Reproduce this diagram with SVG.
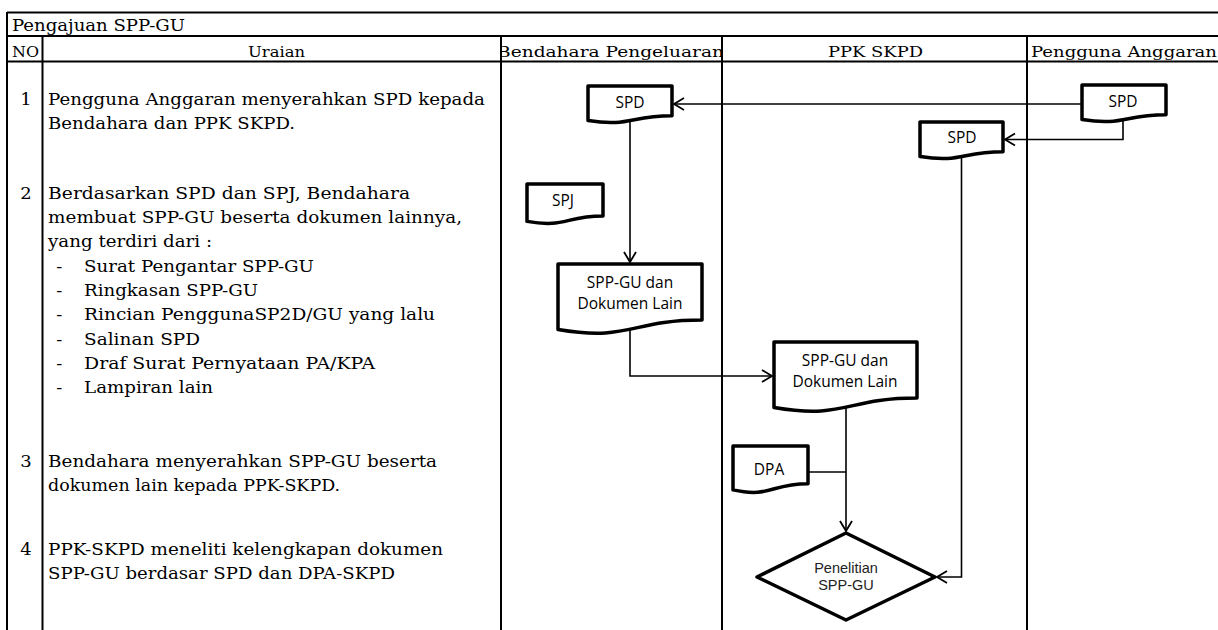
<svg xmlns="http://www.w3.org/2000/svg" width="1218" height="630" viewBox="0 0 1218 630">
<style>
.ln{stroke:#000;stroke-width:2;fill:none}
.doc{fill:#fff;stroke:#000;stroke-width:3.5;stroke-linejoin:round}
.con{stroke:#000;stroke-width:1.6;fill:none}
.body{font-family:"DejaVu Serif",serif;font-size:16px;fill:#000}
.hdr{font-family:"DejaVu Serif",serif;font-size:14px;fill:#000}
.dt{font-family:"Open Sans",sans-serif;font-size:15.5px;text-anchor:middle;fill:#000}
.dm{font-family:"Liberation Sans",Arial,sans-serif;font-size:14.5px;text-anchor:middle;fill:#222}
</style>
<defs>
<marker id="arr" markerUnits="userSpaceOnUse" markerWidth="14" markerHeight="14" refX="10" refY="6" orient="auto" overflow="visible">
<path d="M0,0 L10,6 L0,12" fill="none" stroke="#000" stroke-width="1.8"/>
</marker>
<clipPath id="clipB"><rect x="502" y="36" width="219" height="26"/></clipPath>
</defs>
<rect width="1218" height="630" fill="#fff"/>

<g id="table">
<line class="ln" x1="7" y1="12.5" x2="1218" y2="12.5"/>
<line class="ln" x1="7" y1="36" x2="1218" y2="36"/>
<line class="ln" x1="7" y1="61.5" x2="1218" y2="61.5"/>
<line class="ln" x1="7" y1="12" x2="7" y2="630"/>
<line class="ln" x1="42.5" y1="36" x2="42.5" y2="630"/>
<line class="ln" x1="501" y1="36" x2="501" y2="630"/>
<line class="ln" x1="722" y1="36" x2="722" y2="630"/>
<line class="ln" x1="1027" y1="36" x2="1027" y2="630"/>
<text class="body" x="12" y="31" textLength="173" lengthAdjust="spacingAndGlyphs">Pengajuan SPP-GU</text>
<text class="hdr" x="12" y="56.5" textLength="27" lengthAdjust="spacingAndGlyphs">NO</text>
<text class="hdr" x="248" y="56.5" textLength="57" lengthAdjust="spacingAndGlyphs">Uraian</text>
<text class="hdr" x="497" y="56.5" textLength="227" lengthAdjust="spacingAndGlyphs" clip-path="url(#clipB)">Bendahara Pengeluaran</text>
<text class="hdr" x="828" y="56.5" textLength="95" lengthAdjust="spacingAndGlyphs">PPK SKPD</text>
<text class="hdr" x="1031" y="56.5" textLength="186" lengthAdjust="spacingAndGlyphs">Pengguna Anggaran</text>
</g>

<g id="uraian" transform="scale(1.125,1)">
<text class="body" x="18" y="105">1</text>
<text class="body" x="42.7" y="105" textLength="388.4" lengthAdjust="spacingAndGlyphs">Pengguna Anggaran menyerahkan SPD kepada</text>
<text class="body" x="42.7" y="129" textLength="219.6" lengthAdjust="spacingAndGlyphs">Bendahara dan PPK SKPD.</text>
<text class="body" x="18" y="199">2</text>
<text class="body" x="42.7" y="199" textLength="321.8" lengthAdjust="spacingAndGlyphs">Berdasarkan SPD dan SPJ, Bendahara</text>
<text class="body" x="42.7" y="223" textLength="368" lengthAdjust="spacingAndGlyphs">membuat SPP-GU beserta dokumen lainnya,</text>
<text class="body" x="42.7" y="247" textLength="145.8" lengthAdjust="spacingAndGlyphs">yang terdiri dari :</text>
<text class="body" x="50" y="272">-</text><text class="body" x="74.7" y="272" textLength="204.4" lengthAdjust="spacingAndGlyphs">Surat Pengantar SPP-GU</text>
<text class="body" x="50" y="296">-</text><text class="body" x="74.7" y="296" textLength="154.7" lengthAdjust="spacingAndGlyphs">Ringkasan SPP-GU</text>
<text class="body" x="50" y="320">-</text><text class="body" x="74.7" y="320" textLength="312" lengthAdjust="spacingAndGlyphs">Rincian PenggunaSP2D/GU yang lalu</text>
<text class="body" x="50" y="345">-</text><text class="body" x="74.7" y="345" textLength="103.1" lengthAdjust="spacingAndGlyphs">Salinan SPD</text>
<text class="body" x="50" y="369">-</text><text class="body" x="74.7" y="369" textLength="258.7" lengthAdjust="spacingAndGlyphs">Draf Surat Pernyataan PA/KPA</text>
<text class="body" x="50" y="393">-</text><text class="body" x="74.7" y="393" textLength="114.7" lengthAdjust="spacingAndGlyphs">Lampiran lain</text>
<text class="body" x="18" y="467">3</text>
<text class="body" x="42.7" y="467" textLength="345.8" lengthAdjust="spacingAndGlyphs">Bendahara menyerahkan SPP-GU beserta</text>
<text class="body" x="42.7" y="491" textLength="259.6" lengthAdjust="spacingAndGlyphs">dokumen lain kepada PPK-SKPD.</text>
<text class="body" x="18" y="555">4</text>
<text class="body" x="42.7" y="555" textLength="351.1" lengthAdjust="spacingAndGlyphs">PPK-SKPD meneliti kelengkapan dokumen</text>
<text class="body" x="42.7" y="579" textLength="308.4" lengthAdjust="spacingAndGlyphs">SPP-GU berdasar SPD dan DPA-SKPD</text>
</g>

<g id="connectors">
<path class="con" d="M1084,104 H674" marker-end="url(#arr)"/>
<path class="con" d="M1123,115 V139.5 H1005" marker-end="url(#arr)"/>
<path class="con" d="M630,115 V262" marker-end="url(#arr)"/>
<path class="con" d="M630,325 V376 H772" marker-end="url(#arr)"/>
<path class="con" d="M846,405 V531" marker-end="url(#arr)"/>
<path class="con" d="M806,472 H846"/>
<path class="con" d="M961.5,150 V577 H937" marker-end="url(#arr)"/>
</g>

<g id="spd-pa">
<path class="doc" d="M1082,85 H1166 V114.7 C1124,114.7 1124,126 1082,119.6 Z"/>
<text class="dt" x="1123" y="107">SPD</text>
</g>
<g id="spd-bendahara">
<path class="doc" d="M588,86 H672 V115.7 C630,115.7 630,127 588,120.6 Z"/>
<text class="dt" x="630" y="108">SPD</text>
</g>
<g id="spd-ppk">
<path class="doc" d="M920,122 H1003 V151.7 C961.5,151.7 961.5,163 920,156.6 Z"/>
<text class="dt" x="962" y="143">SPD</text>
</g>
<g id="spj">
<path class="doc" d="M527,184 H603 V216.1 C565,216.1 565,228.3 527,221.4 Z"/>
<text class="dt" x="563" y="206">SPJ</text>
</g>
<g id="sppgu-bendahara">
<path class="doc" d="M558,264 H702 V320.1 C630,320.1 630,341.6 558,329.4 Z"/>
<text class="dt" x="630" y="288">SPP-GU dan</text>
<text class="dt" x="630" y="309">Dokumen Lain</text>
</g>
<g id="sppgu-ppk">
<path class="doc" d="M774,342 H917 V398.1 C845.5,398.1 845.5,419.6 774,407.4 Z"/>
<text class="dt" x="845" y="366">SPP-GU dan</text>
<text class="dt" x="845" y="387">Dokumen Lain</text>
</g>
<g id="dpa">
<path class="doc" d="M733,446 H808 V483.7 C770.5,483.7 770.5,498.1 733,489.9 Z"/>
<text class="dt" x="769" y="475">DPA</text>
</g>
<g id="penelitian">
<polygon class="doc" points="757,577 846,533 935,577 846,620"/>
<text class="dm" x="846" y="573">Penelitian</text>
<text class="dm" x="846" y="590">SPP-GU</text>
</g>
</svg>
